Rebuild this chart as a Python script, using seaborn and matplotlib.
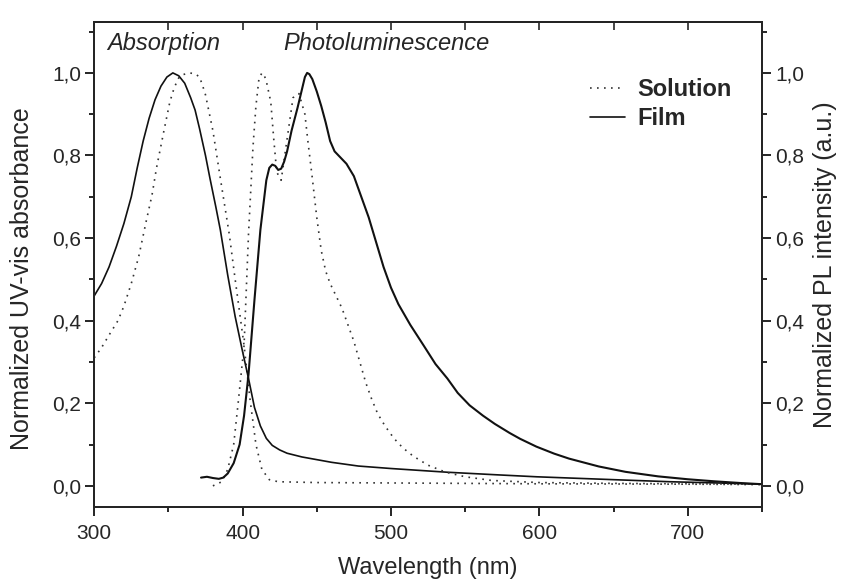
import numpy as np
import pandas as pd
import matplotlib
matplotlib.use("Agg")
import matplotlib.pyplot as plt
import seaborn as sns
from matplotlib.ticker import MultipleLocator, FuncFormatter

# ---------------------------------------------------------
# data (wavelength in nm, normalized)
# ---------------------------------------------------------
abs_sol_wl = [300, 305, 310, 316, 320, 325, 330, 335, 339, 342, 347, 351, 354, 357,
              360, 364, 368, 371, 373, 375, 380, 385, 387, 391, 395, 398, 401, 405,
              409, 413, 418, 424, 450, 500, 600, 700, 750]
abs_sol_y = [0.31, 0.335, 0.365, 0.40, 0.435, 0.49, 0.555, 0.64, 0.705, 0.77, 0.86, 0.93, 0.965, 0.988,
             0.996, 1.0, 0.998, 0.99, 0.97, 0.947, 0.86, 0.745, 0.70, 0.61, 0.50, 0.42, 0.34, 0.21,
             0.10, 0.04, 0.015, 0.01, 0.008, 0.007, 0.005, 0.004, 0.003]

abs_film_wl = [300, 305, 310, 315, 320, 325, 329, 333, 337, 341, 345, 349, 353, 357,
               361, 365, 368, 371, 375, 378, 382, 385, 390, 395, 400, 404, 408, 412,
               416, 420, 425, 430, 440, 460, 478, 500, 538, 570, 598, 650, 688, 720, 750]
abs_film_y = [0.46, 0.49, 0.53, 0.58, 0.635, 0.70, 0.77, 0.835, 0.89, 0.935, 0.968, 0.99, 1.0, 0.993,
              0.975, 0.94, 0.91, 0.865, 0.80, 0.745, 0.675, 0.62, 0.51, 0.41, 0.325, 0.26, 0.19, 0.145,
              0.115, 0.098, 0.087, 0.079, 0.07, 0.057, 0.048, 0.042, 0.033, 0.027, 0.022, 0.015, 0.010,
              0.007, 0.004]

pl_sol_wl = [380, 386, 390, 394, 397, 401, 404, 407, 409, 411, 413, 414.5, 416, 419,
             421, 423, 426, 430, 434, 438, 442, 444, 447, 450, 453, 456, 459, 463,
             467, 471, 475, 479, 483, 487, 491, 496, 502, 508, 515, 525, 537, 550,
             568, 600, 650, 700, 750]
pl_sol_y = [0.0, 0.01, 0.04, 0.10, 0.20, 0.34, 0.61, 0.82, 0.92, 0.985, 1.0, 0.995, 0.98, 0.93,
            0.84, 0.76, 0.74, 0.84, 0.94, 0.95, 0.90, 0.835, 0.745, 0.65, 0.57, 0.52, 0.49, 0.46,
            0.43, 0.39, 0.35, 0.30, 0.25, 0.21, 0.175, 0.145, 0.115, 0.092, 0.072, 0.05, 0.033, 0.022,
            0.013, 0.008, 0.006, 0.005, 0.004]

pl_film_wl = [372, 376, 380, 384, 387, 390, 394, 398, 401, 404, 408, 412, 416, 418,
              420, 422, 424, 426, 428, 430, 433, 437, 440, 442, 443.5, 445, 447, 450,
              453, 456, 459, 462, 466, 470, 475, 480, 485, 490, 495, 500, 505, 513,
              522, 530, 538, 545, 553, 562, 570, 580, 587, 598, 610, 620, 640, 658,
              680, 700, 718, 735, 750]
pl_film_y = [0.02, 0.022, 0.019, 0.017, 0.02, 0.03, 0.055, 0.10, 0.17, 0.27, 0.45, 0.62, 0.74, 0.77,
             0.778, 0.775, 0.765, 0.768, 0.785, 0.81, 0.86, 0.915, 0.96, 0.99, 1.0, 0.997, 0.985, 0.955,
             0.92, 0.88, 0.835, 0.81, 0.795, 0.78, 0.75, 0.70, 0.65, 0.59, 0.53, 0.48, 0.44, 0.39,
             0.34, 0.295, 0.26, 0.225, 0.195, 0.17, 0.15, 0.128, 0.114, 0.095, 0.078, 0.066, 0.047, 0.034,
             0.023, 0.016, 0.011, 0.007, 0.004]

# ---------------------------------------------------------
# style
# ---------------------------------------------------------
sns.set_style("ticks")
plt.rcParams["font.family"] = ["Liberation Sans", "DejaVu Sans"]
plt.rcParams["axes.linewidth"] = 1.4

fig, ax = plt.subplots(figsize=(8.41, 5.82), dpi=100)
fig.subplots_adjust(left=0.112, right=0.906, bottom=0.129, top=0.962)

dotted = (0, (1, 3.2))
line_color = "#111111"
dot_color = "#333333"

sns.lineplot(x=abs_sol_wl, y=abs_sol_y, ax=ax, color=dot_color, lw=1.2,
             linestyle=dotted, label="Solution")
sns.lineplot(x=abs_film_wl, y=abs_film_y, ax=ax, color=line_color, lw=1.2,
             label="Film")
sns.lineplot(x=pl_sol_wl, y=pl_sol_y, ax=ax, color=dot_color, lw=1.2,
             linestyle=dotted, legend=False)
sns.lineplot(x=pl_film_wl, y=pl_film_y, ax=ax, color=line_color, lw=1.5,
             legend=False)

# ---------------------------------------------------------
# axes
# ---------------------------------------------------------
ax.set_xlim(300, 750)
ax.set_ylim(-0.051, 1.123)

comma = FuncFormatter(lambda v, p: f"{v:.1f}".replace(".", ","))

ax.xaxis.set_major_locator(MultipleLocator(100))
ax.xaxis.set_minor_locator(MultipleLocator(50))
ax.yaxis.set_major_locator(MultipleLocator(0.2))
ax.yaxis.set_minor_locator(MultipleLocator(0.1))
ax.yaxis.set_major_formatter(comma)
ax.tick_params(which="major", direction="out", length=6.5, width=1.2,
               labelsize=15, pad=3, color="black")
ax.tick_params(which="minor", direction="out", length=3.5, width=1.2, color="black")
ax.tick_params(axis="x", which="major", pad=6)

ax.set_xlabel("Wavelength (nm)", fontsize=17, labelpad=10)
ax.set_ylabel("Normalized UV-vis absorbance", fontsize=18)
ax.yaxis.set_label_coords(-0.09, 0.47)

# right axis (same scale)
ax2 = ax.twinx()
ax2.set_ylim(ax.get_ylim())
ax2.yaxis.set_major_locator(MultipleLocator(0.2))
ax2.yaxis.set_minor_locator(MultipleLocator(0.1))
ax2.yaxis.set_major_formatter(comma)
ax2.tick_params(which="major", direction="out", length=6.5, width=1.2,
                labelsize=15, pad=3, color="black")
ax2.tick_params(which="minor", direction="out", length=3.5, width=1.2, color="black")
ax2.set_ylabel("Normalized PL intensity (a.u.)", fontsize=18, labelpad=6)

# top axis: inward ticks every 50 nm, no labels
top = ax.secondary_xaxis("top")
top.xaxis.set_major_locator(MultipleLocator(50))
top.tick_params(direction="in", length=5.8, width=1.2, labeltop=False)

for sp in ax.spines.values():
    sp.set_color("black")

# ---------------------------------------------------------
# annotations and legend
# ---------------------------------------------------------
ax.text(308.8, 1.056, "Absorption", fontsize=17, style="italic", va="baseline")
ax.text(427.4, 1.056, "Photoluminescence", fontsize=17, style="italic", va="baseline")

ax.legend(loc="upper left", bbox_to_anchor=(0.7425, 0.885), frameon=False,
          prop={"weight": "bold", "size": 17}, handlelength=1.5,
          handletextpad=0.5, labelspacing=0.25, borderpad=0, borderaxespad=0)

plt.savefig("out.png", dpi=100)
plt.close()
